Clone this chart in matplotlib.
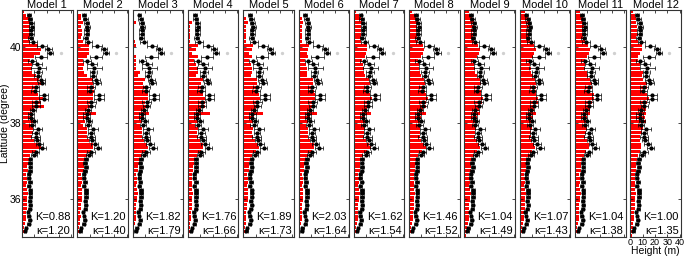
import numpy as np
import matplotlib.pyplot as plt

plt.rcParams['font.family'] = ['Liberation Sans', 'DejaVu Sans']

# latitude bands (centres, degrees), south -> north
lat = np.round(np.arange(35.05, 41.0, 0.1), 2)

# observed heights (m) and their errors, south -> north
obs = [np.nan, 2.5, 3.2, 5.3, 6.1, 5.3, 4.7, 6.3, 6.8, 6.3,
       6.8, 6.8, 6.8, 5.3, 6.3, 5.3, 5.3, 6.3, 6.8, 6.3,
       6.8, 9.5, 11.0, 16.5, 14.0, 12.0, 11.0, 11.0, 12.6, 8.4,
       9.7, 7.5, 7.5, 9.0, 11.5, 11.5, 17.5, 17.5, 10.5, 11.1,
       16.0, 15.3, 12.6, 13.0, 13.7, 12.0, 8.0, 15.3, 23.0, 21.5,
       16.0, 8.9, 7.0, 7.5, 7.5, 8.0, 7.5, 6.5, 5.5, np.nan]
obs_err = [0, 1.0, 1.0, 1.2, 1.2, 1.0, 1.0, 1.2, 1.2, 1.2,
           1.5, 1.5, 1.5, 1.2, 1.5, 1.2, 1.2, 1.5, 1.5, 1.5,
           1.5, 2.5, 3.0, 3.0, 3.0, 2.5, 3.5, 2.5, 4.0, 2.5,
           2.5, 2.5, 2.5, 2.5, 3.0, 3.5, 4.0, 4.0, 3.0, 3.0,
           3.0, 3.0, 2.5, 3.0, 6.0, 4.0, 3.0, 5.0, 2.5, 2.5,
           4.0, 3.0, 2.0, 2.0, 2.0, 2.0, 2.0, 2.0, 1.5, 0]

# excluded points (grey)
grey_lat = [39.85, 39.35]
grey_h = [31.5, 14.0]

# modelled heights (m), south -> north
m1 = [1.0, 1.7, 1.7, 2.5, 3.5, 3.5, 3.2, 3.7, 3.7, 4.2,
      4.2, 4.8, 4.2, 3.5, 4.2, 4.2, 3.5, 4.8, 4.2, 5.3,
      5.3, 6.9, 11.2, 15.5, 12.7, 9.8, 8.5, 9.2, 9.2, 9.8,
      9.8, 8.5, 8.5, 9.8, 18.0, 15.5, 17.0, 12.7, 9.8, 11.2,
      15.5, 13.8, 11.2, 8.5, 8.5, 8.5, 6.9, 9.5, 14.8, 15.5,
      12.7, 6.9, 6.4, 6.9, 6.4, 6.4, 6.9, 6.9, 3.5, 1.7]
m2 = [0.8, 1.5, 1.5, 2.0, 2.5, 2.8, 2.5, 3.0, 3.0, 3.5,
      3.5, 4.0, 3.5, 3.0, 3.5, 3.5, 3.0, 5.2, 5.2, 5.2,
      6.6, 8.1, 11.0, 12.4, 12.4, 9.5, 8.1, 7.5, 8.1, 4.6,
      6.6, 8.1, 15.5, 8.1, 11.5, 10.8, 13.0, 13.0, 13.8, 13.8,
      12.4, 12.4, 8.0, 5.2, 4.6, 5.8, 4.6, 8.0, 9.5, 9.5,
      9.5, 4.6, 2.9, 3.5, 3.8, 2.9, 4.6, 2.9, 2.9, 0.9]
m3 = [0.8, 1.4, 1.4, 2.0, 2.5, 2.5, 2.5, 3.0, 3.0, 3.5,
      3.5, 4.0, 3.5, 3.0, 3.5, 3.5, 3.0, 4.5, 4.5, 5.0,
      6.0, 7.5, 10.5, 12.5, 12.0, 9.5, 8.0, 7.5, 8.0, 6.0,
      8.0, 9.0, 13.0, 10.0, 11.5, 10.0, 12.9, 12.9, 11.5, 11.5,
      8.6, 10.0, 4.3, 5.7, 2.8, 2.8, 2.8, 2.8, 1.4, 1.4,
      2.8, 2.0, 1.4, 1.4, 1.4, 1.4, 2.8, 1.4, 1.4, 1.4]
m4 = [0.8, 1.4, 1.4, 2.0, 2.5, 2.5, 2.5, 3.0, 3.0, 3.5,
      3.5, 4.0, 3.5, 3.0, 3.5, 3.5, 3.0, 4.5, 4.5, 5.0,
      6.0, 7.5, 10.5, 12.5, 12.0, 9.5, 8.0, 7.5, 8.0, 6.0,
      8.0, 9.0, 17.8, 10.6, 13.5, 13.5, 13.5, 12.0, 12.0, 10.6,
      10.6, 12.0, 6.3, 7.8, 7.8, 6.3, 4.9, 7.8, 3.4, 6.3,
      7.8, 2.0, 1.5, 2.0, 2.0, 1.5, 3.4, 1.2, 0.6, 1.2]
m5 = [0.8, 1.4, 1.4, 2.0, 2.5, 2.5, 2.5, 3.0, 3.0, 3.5,
      3.5, 4.0, 3.5, 3.0, 3.5, 3.5, 3.0, 4.5, 4.5, 5.0,
      6.0, 7.5, 10.5, 12.5, 12.0, 9.5, 8.0, 7.5, 8.0, 6.0,
      8.0, 9.0, 16.0, 10.5, 13.0, 13.0, 13.5, 12.5, 12.0, 11.0,
      11.0, 11.5, 6.5, 7.5, 7.0, 6.0, 5.0, 7.5, 5.0, 7.0,
      8.0, 2.5, 2.0, 2.5, 2.5, 2.0, 3.5, 2.0, 1.0, 1.0]
m6 = [0.8, 1.5, 1.5, 2.0, 2.5, 2.8, 2.5, 3.0, 3.0, 3.5,
      3.5, 4.0, 3.5, 3.0, 3.5, 3.5, 3.0, 4.8, 4.8, 5.0,
      6.2, 7.8, 10.8, 12.5, 12.2, 9.5, 8.0, 7.5, 8.0, 6.0,
      8.0, 9.0, 15.0, 10.0, 12.5, 12.5, 13.5, 13.0, 12.5, 11.5,
      11.5, 12.0, 7.0, 7.0, 6.5, 6.0, 5.0, 8.0, 6.5, 8.0,
      8.5, 3.0, 2.5, 3.0, 3.0, 2.5, 3.5, 2.5, 1.5, 1.0]
m7 = [1.0, 1.7, 1.7, 2.5, 3.5, 3.5, 3.2, 3.7, 3.7, 4.2,
      4.2, 4.8, 4.2, 3.5, 4.2, 4.2, 3.5, 4.8, 4.8, 5.3,
      6.0, 7.5, 11.0, 14.0, 12.5, 10.0, 8.5, 8.5, 9.0, 7.5,
      9.0, 9.0, 14.0, 10.5, 13.5, 13.5, 14.5, 13.5, 12.5, 12.0,
      13.0, 12.5, 9.0, 8.0, 8.0, 7.5, 6.5, 9.0, 10.0, 11.0,
      10.5, 6.0, 5.5, 6.0, 6.0, 5.5, 6.5, 5.5, 4.0, 2.0]
m8 = [1.0, 1.8, 1.8, 2.6, 3.5, 3.5, 3.3, 3.8, 3.8, 4.3,
      4.3, 4.8, 4.3, 3.6, 4.3, 4.3, 3.6, 5.0, 5.0, 5.5,
      6.0, 7.5, 10.5, 13.5, 12.5, 10.0, 8.5, 8.5, 9.0, 8.0,
      9.5, 9.5, 13.5, 11.0, 13.5, 14.0, 15.0, 13.5, 13.0, 12.5,
      13.0, 12.5, 10.0, 8.5, 8.0, 8.0, 7.0, 9.5, 11.0, 12.0,
      11.0, 7.0, 6.5, 7.5, 7.0, 6.5, 7.0, 6.0, 4.5, 2.5]
m9 = [1.2, 2.0, 2.0, 2.8, 3.7, 3.7, 3.5, 4.0, 4.0, 4.5,
      4.5, 5.0, 4.5, 3.8, 4.5, 4.5, 3.8, 5.2, 5.2, 5.8,
      6.5, 7.8, 10.0, 12.5, 12.0, 10.0, 9.0, 8.5, 9.5, 8.5,
      10.0, 10.0, 13.0, 11.5, 13.5, 14.0, 15.0, 13.5, 13.5, 13.0,
      13.5, 12.5, 10.5, 9.0, 8.5, 8.0, 7.5, 10.0, 11.5, 12.5,
      11.0, 8.0, 7.0, 8.0, 8.0, 7.5, 7.5, 6.5, 5.0, 3.5]
m10 = [1.2, 2.0, 2.0, 2.8, 3.7, 3.7, 3.5, 4.0, 4.0, 4.5,
       4.5, 5.0, 4.5, 3.8, 4.5, 4.5, 3.8, 5.2, 5.2, 5.8,
       6.5, 8.0, 10.0, 12.5, 12.0, 10.0, 9.0, 9.0, 10.0, 9.0,
       10.5, 10.5, 13.0, 12.0, 13.5, 14.5, 15.0, 13.5, 13.5, 13.5,
       13.5, 12.5, 11.0, 9.5, 9.0, 8.5, 8.0, 10.5, 12.0, 13.0,
       11.5, 8.5, 7.5, 8.5, 8.5, 8.0, 8.0, 7.0, 5.5, 4.0]
m11 = [1.0, 1.5, 2.0, 2.5, 3.0, 3.0, 3.0, 3.5, 3.5, 4.0,
       4.0, 4.5, 4.0, 3.5, 4.0, 4.0, 3.5, 4.5, 4.5, 5.0,
       6.0, 7.0, 9.0, 11.0, 11.0, 9.5, 8.5, 9.0, 10.0, 9.5,
       10.5, 10.0, 12.0, 12.4, 13.3, 13.8, 15.2, 15.2, 12.4, 13.8,
       13.8, 12.4, 10.9, 9.5, 8.0, 8.0, 8.0, 9.5, 11.5, 12.4,
       10.9, 8.0, 6.6, 8.0, 8.0, 7.5, 6.6, 6.6, 4.6, 3.7]
m12 = [1.0, 1.5, 2.0, 2.5, 3.0, 3.0, 3.0, 3.5, 3.5, 4.0,
       4.0, 4.5, 4.0, 3.5, 4.0, 4.0, 3.5, 4.5, 4.5, 5.0,
       5.5, 6.5, 8.0, 9.0, 9.0, 7.8, 7.8, 9.2, 10.6, 10.6,
       12.5, 12.0, 12.5, 12.5, 13.0, 13.5, 15.0, 13.5, 12.1, 13.5,
       13.5, 10.6, 9.2, 10.6, 7.8, 7.8, 6.3, 6.3, 7.8, 9.2,
       9.2, 6.3, 4.9, 6.3, 5.8, 5.8, 4.9, 4.9, 3.5, 2.0]

models = [m1, m2, m3, m4, m5, m6, m7, m8, m9, m10, m11, m12]
K = ['0.88', '1.20', '1.82', '1.76', '1.89', '2.03', '1.62', '1.46', '1.04', '1.07', '1.04', '1.00']
kappa = ['1.20', '1.40', '1.79', '1.66', '1.73', '1.64', '1.54', '1.52', '1.49', '1.43', '1.38', '1.35']

fig = plt.figure(figsize=(6.85, 2.57), dpi=100)

W, H = 685.0, 257.0
left0, step, width = 22.0, 55.3, 50.5
top, bottom = 9.5, 237.0

for i, h in enumerate(models):
    ax = fig.add_axes([(left0 + i * step) / W, 1 - bottom / H, width / W, (bottom - top) / H])
    ax.barh(lat, h, height=0.08, color='#ff0000', linewidth=0)
    ax.errorbar(obs, lat, xerr=obs_err, fmt='o', color='black', ms=2.0,
                elinewidth=0.5, capsize=1.2, capthick=0.5)
    ax.plot(grey_h, grey_lat, 'o', color='#d0d0d0', ms=1.4)
    ax.set_xlim(0, 41)
    ax.set_ylim(35.0, 41.0)
    ax.set_yticks([36, 38, 40])
    ax.set_xticks([0, 10, 20, 30, 40])
    ax.tick_params(axis='y', labelsize=7.5)
    ax.tick_params(axis='x', labelsize=6.5)
    ax.tick_params(direction='in', length=2, width=0.5,
                   top=True, right=True, pad=0.5)
    for s in ax.spines.values():
        s.set_linewidth(0.8)
        s.set_color('#333333')
    ax.set_title('Model %d' % (i + 1), fontsize=8, pad=1)
    ax.text(0.96, 0.065, 'K=' + K[i], transform=ax.transAxes, ha='right', va='bottom', fontsize=8)
    ax.text(0.96, 0.005, '\u03ba=' + kappa[i], transform=ax.transAxes, ha='right', va='bottom', fontsize=8)
    if i == 0:
        ax.set_ylabel('Latitude (degree)', fontsize=7.5, labelpad=0)
    else:
        ax.set_yticklabels([])
    if i == len(models) - 1:
        ax.set_xlabel('Height (m)', fontsize=7.5, labelpad=-0.5)
    else:
        ax.set_xticklabels([])

fig.savefig('out.png', dpi=100)
